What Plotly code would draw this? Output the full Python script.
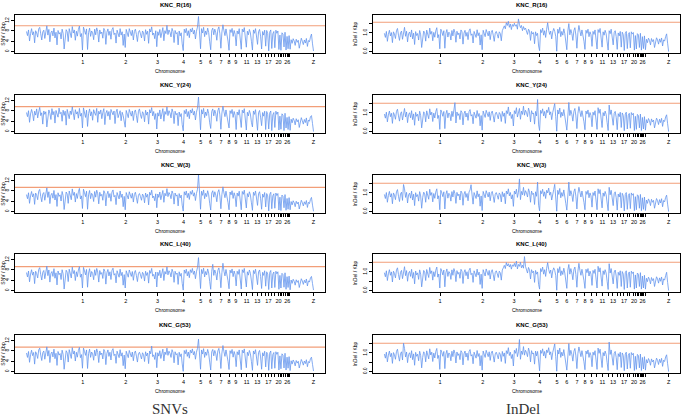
import numpy as np
import plotly.graph_objects as go

# chromosome layout (Mb)
chroms = ["1", "2", "3", "4", "5", "6", "7", "8", "9", "10", "11", "12", "13", "14", "15",
          "16", "17", "18", "19", "20", "21", "22", "23", "24", "25", "26", "27", "28", "Z"]
chrom_len = [195, 149, 110, 90, 60, 34, 36, 28, 23, 19, 19, 20, 17, 15, 12.6,
             0.4, 10.4, 11, 9.9, 14, 6.9, 3.9, 6, 6.4, 2, 5, 4.7, 4.5, 82]
shown_labels = ["1", "2", "3", "4", "5", "6", "7", "8", "9", "11", "13", "17", "20", "26", "Z"]

samples = ["KNC_R(16)", "KNC_Y(24)", "KNC_W(3)", "KNC_L(40)", "KNC_G(53)"]
snv_cut = [10.0, 9.7, 9.4, 9.3, 9.5]
indel_cut = [1.57, 1.52, 1.52, 1.52, 1.52]

# SNV density per window (one line per chromosome block: 1,2,3,4,5,6,7,8,9,10,11,12,13,14,15,17,18,19,20,21-28,Z)
snv_r16 = [7.8,6.2,8.4,4.1,7.0,8.9,6.5,7.7,3.4,8.1,7.2,5.6,8.8,9.4,6.9,4.5,7.6,8.3,5.1,7.9,10.0,6.4,8.6,3.8,7.3,8.0,6.1,9.1,5.3,7.5,2.6,8.2,6.8,7.4,4.9,8.7,7.1,1.0,6.3,8.5,7.7,3.9,8.9,6.6,5.4,9.7,7.2,8.4,4.4,7.9,6.0,8.6,9.9,5.8,7.0,0.6,
           9.5,8.2,6.7,8.8,0.8,7.4,9.1,5.9,8.0,7.3,4.6,8.7,6.5,9.2,7.8,3.7,8.4,6.9,7.6,5.2,9.0,8.1,2.8,7.5,8.8,6.3,7.9,4.8,8.5,9.3,6.6,7.2,3.3,8.3,7.0,5.7,8.9,6.4,7.7,2.4,6.8,1.6,
           8.6,7.4,5.8,8.9,7.1,6.2,8.3,4.5,7.8,8.7,6.6,3.9,7.5,8.2,6.9,5.3,8.0,7.3,4.1,8.5,6.7,7.9,3.2,8.8,7.6,9.6,6.4,7.2,5.0,8.1,1.9,
           7.7,6.3,8.6,5.4,7.9,9.3,4.2,8.1,7.0,10.2,6.6,8.4,7.5,5.7,9.0,7.8,3.5,8.2,6.9,7.4,2.6,8.0,6.1,7.3,3.0,0.4,
           8.7,7.3,9.0,6.2,8.1,5.4,8.8,7.6,9.2,6.8,8.3,4.9,7.9,9.5,13.6,8.4,1.1,
           8.9,7.2,9.4,5.8,8.0,6.6,9.1,7.4,3.8,0.7,
           8.2,9.1,6.5,8.7,7.3,4.4,8.5,9.6,6.9,1.3,
           7.6,10.4,8.1,6.2,8.8,7.0,4.1,0.5,
           8.5,7.4,9.0,5.9,8.2,6.7,2.2,
           8.0,6.8,8.9,5.3,0.9,
           8.7,7.6,9.3,6.1,1.7,
           7.9,6.5,8.6,7.2,4.0,0.6,
           8.4,7.1,8.9,5.5,2.8,
           7.7,8.6,6.0,1.0,
           7.8,6.4,8.3,2.1,
           8.2,7.0,0.3,
           7.6,8.4,1.2,
           6.9,7.8,1.5,
           8.3,7.1,8.0,0.8,
           6.4,0.5,7.3,6.8,1.8,7.5,0.6,5.9,1.1,6.2,0.9,
           4.6,3.2,5.0,4.1,2.4,4.8,3.6,4.4,1.3,3.9,5.2,4.0,2.7,4.5,3.3,5.1,2.0,4.3,3.8,5.6,6.8,3.0,0.2]

snv_y24 = [7.4,5.8,8.1,3.6,6.8,8.6,7.0,4.2,7.9,6.4,8.8,5.3,7.6,9.4,6.2,7.3,2.9,8.0,6.7,7.7,1.8,6.1,8.4,7.1,4.7,8.9,6.5,7.8,3.3,8.2,7.0,5.6,9.1,6.9,7.5,4.0,8.3,6.3,7.9,2.5,8.6,7.2,5.0,8.0,6.6,9.6,7.3,4.6,8.5,6.8,7.7,5.2,9.0,6.0,7.1,1.4,
           9.2,7.6,5.5,8.3,2.0,7.0,8.8,6.1,7.7,4.4,8.5,7.2,6.3,9.0,3.6,7.9,6.8,8.4,5.0,7.4,8.9,2.7,7.1,8.2,6.0,7.8,4.6,8.6,7.3,6.5,8.0,3.1,7.6,8.7,5.4,6.9,8.1,4.2,7.5,6.2,2.9,1.7,
           8.2,6.9,5.4,8.6,7.3,6.0,8.0,4.3,7.5,8.4,6.2,3.5,7.9,8.8,6.5,5.1,7.7,7.0,3.8,8.3,6.4,7.6,2.9,8.5,7.2,9.3,6.1,7.8,4.7,7.0,1.0,
           7.3,6.0,8.4,4.9,7.7,8.9,4.0,7.8,6.7,9.6,6.2,8.1,7.2,5.3,8.8,7.5,3.1,7.9,6.5,7.1,2.3,7.6,5.8,7.0,2.7,0.3,
           8.2,6.9,8.7,5.8,7.8,5.0,8.4,7.2,8.9,6.4,7.9,4.5,7.5,9.1,13.4,8.0,0.7,
           8.5,6.8,9.0,5.4,7.6,6.2,8.7,7.0,3.4,1.2,
           7.8,8.8,6.1,8.3,6.9,4.0,8.1,9.2,6.5,0.9,
           7.2,9.9,7.7,5.8,8.4,6.6,3.7,1.4,
           8.1,7.0,8.6,5.5,7.8,6.3,0.8,
           7.6,6.4,8.5,4.9,1.6,
           8.3,7.2,8.9,5.7,0.6,
           7.5,6.1,8.2,6.8,3.6,1.8,
           8.0,6.7,8.5,5.1,0.5,
           7.3,8.2,5.6,2.3,
           7.4,6.0,7.9,0.8,
           7.8,6.6,1.0,
           7.2,8.0,0.4,
           6.5,7.4,1.6,
           7.9,6.7,7.6,0.6,
           6.0,0.9,6.9,6.4,0.4,7.1,1.4,5.5,0.8,5.8,0.5,
           4.8,3.4,5.2,4.3,2.6,5.0,3.8,4.6,1.6,4.1,5.4,4.2,2.9,4.7,3.5,5.3,2.2,4.5,4.0,5.8,6.2,3.1,0.0]

snv_w3 = [6.6,5.0,7.3,3.2,6.1,7.8,5.7,6.9,2.8,7.2,6.3,4.6,7.9,8.6,5.9,3.8,6.8,7.4,4.4,7.0,9.2,5.5,7.7,3.1,6.4,7.1,5.2,8.2,4.5,6.6,2.0,7.3,5.9,6.5,4.1,7.8,6.2,0.8,5.4,7.6,6.8,3.2,8.0,5.7,4.6,8.8,6.3,7.5,3.7,7.0,5.1,7.7,9.0,4.9,6.1,1.2,
          8.7,7.3,5.8,7.9,0.9,6.5,8.2,5.0,7.1,6.4,3.9,7.8,5.6,8.3,6.9,3.0,7.5,6.0,6.7,4.4,8.1,7.2,2.2,6.6,7.9,5.4,7.0,4.0,7.6,8.4,5.7,6.3,2.7,7.4,6.1,4.9,8.0,5.5,6.8,1.9,5.9,0.7,
          7.4,6.2,4.9,7.7,6.0,5.2,7.1,3.7,6.6,7.5,5.5,3.2,6.3,7.0,5.8,4.4,6.8,6.1,3.4,7.2,5.6,6.7,2.6,7.5,6.4,8.3,5.3,6.0,4.2,6.9,1.5,
          6.8,5.5,7.6,4.6,6.9,8.2,3.6,7.1,6.1,8.9,5.8,7.4,6.6,5.0,8.0,6.9,2.9,7.2,6.0,6.5,2.2,7.0,5.3,6.4,2.5,0.2,
          7.7,6.4,8.0,5.4,7.1,4.7,7.8,6.7,8.3,6.0,7.3,4.3,7.0,8.6,14.3,7.4,0.9,
          7.9,6.3,8.4,5.0,7.1,5.8,8.1,6.5,3.2,0.6,
          7.2,8.1,5.6,7.7,6.4,3.8,7.5,8.5,6.0,1.1,
          6.7,9.6,7.2,5.4,7.9,6.2,3.5,0.7,
          7.6,6.5,8.1,5.1,7.3,5.9,1.9,
          7.2,6.0,7.9,4.6,0.7,
          7.8,6.7,8.3,5.3,1.4,
          7.0,5.7,7.7,6.4,3.4,0.5,
          7.5,6.3,8.0,4.8,2.4,
          6.9,7.7,5.2,0.9,
          6.8,5.6,7.4,1.8,
          7.0,6.1,0.3,
          6.7,7.5,1.1,
          6.1,6.9,1.3,
          7.2,6.2,7.0,0.6,
          5.6,0.4,6.4,5.9,1.5,6.6,0.5,5.1,0.9,5.4,0.7,
          3.9,2.6,4.2,3.4,1.9,4.0,3.0,3.7,1.0,3.3,4.4,3.5,2.2,3.8,2.8,4.3,1.6,3.6,3.1,4.7,5.5,2.5,0.1]

snv_l40 = [7.0,5.3,7.6,3.4,6.4,8.1,6.0,7.2,2.7,7.5,6.6,4.9,8.2,8.9,6.2,4.1,7.1,7.8,4.6,7.3,9.5,5.8,8.0,3.3,6.7,7.4,5.5,8.5,4.8,6.9,2.2,7.6,6.2,6.8,4.3,8.1,6.5,0.6,5.7,7.9,7.1,3.5,8.3,6.0,4.9,9.1,6.6,7.8,3.9,7.3,5.4,8.0,9.3,5.2,6.4,1.0,
           9.0,7.6,6.1,8.2,1.3,6.8,8.5,5.3,7.4,6.7,4.2,8.1,5.9,8.6,7.2,3.3,7.8,6.3,7.0,4.7,8.4,7.5,2.5,6.9,8.2,5.7,7.3,4.3,7.9,8.7,6.0,6.6,3.0,7.7,6.4,5.2,8.3,5.8,7.1,2.1,6.2,1.0,
           7.7,6.5,5.2,8.0,6.3,5.5,7.4,4.0,6.9,7.8,5.8,3.5,6.6,7.3,6.1,4.7,7.1,6.4,3.7,7.5,5.9,7.0,2.9,7.8,6.7,8.6,5.6,6.3,4.5,7.2,1.4,
           7.1,5.8,7.9,4.9,7.2,8.5,3.9,7.4,6.4,9.2,6.1,7.7,6.9,5.3,8.3,7.2,3.2,7.5,6.3,6.8,2.4,7.3,5.6,6.7,2.8,0.2,
           8.0,6.7,8.3,5.7,7.4,5.0,8.1,7.0,8.6,6.3,7.6,4.6,7.3,8.9,12.8,7.7,0.8,
           8.2,6.6,8.7,5.3,7.4,6.1,8.4,6.8,3.5,0.5,
           7.5,10.2,5.9,8.0,6.7,4.1,7.8,8.8,6.3,1.1,
           7.0,10.6,7.5,5.7,8.2,6.5,3.8,0.7,
           7.9,6.8,8.4,5.4,7.6,6.2,1.8,
           7.5,6.3,8.2,4.9,0.6,
           8.1,7.0,8.6,5.6,1.4,
           7.3,6.0,8.0,6.7,3.7,0.4,
           7.8,6.6,8.3,5.1,2.3,
           7.2,8.0,5.5,0.8,
           7.1,5.9,7.7,1.7,
           7.3,6.4,0.4,
           7.0,7.8,1.0,
           6.4,7.2,1.2,
           7.5,6.5,7.3,0.5,
           5.9,1.0,6.7,6.2,1.3,6.9,0.5,5.4,1.2,5.6,0.3,
           4.1,2.8,4.4,3.6,2.1,4.2,3.2,3.9,1.2,3.5,4.6,3.7,2.4,4.0,3.0,4.5,1.8,3.8,3.3,4.9,5.5,2.7,0.2]

snv_g53 = [7.2,5.5,7.8,3.6,6.6,8.3,6.2,7.4,2.9,7.7,6.8,5.1,8.4,9.1,6.4,4.3,7.3,8.0,4.8,7.5,9.6,6.0,8.2,3.5,6.9,7.6,5.7,8.7,5.0,7.1,2.4,7.8,6.4,7.0,4.5,8.3,6.7,0.9,5.9,8.1,7.3,3.7,8.5,6.2,5.1,9.3,6.8,8.0,4.1,7.5,5.6,8.2,9.4,5.4,6.6,1.3,
           9.1,7.8,6.3,8.4,1.2,7.0,8.7,5.5,7.6,6.9,4.4,8.3,6.1,8.8,7.4,3.5,8.0,6.5,7.2,4.9,8.6,7.7,2.7,7.1,8.4,5.9,7.5,4.5,8.1,8.9,6.2,6.8,3.2,7.9,6.6,5.4,8.5,6.0,7.3,2.3,6.4,1.1,
           7.9,6.7,5.4,8.2,6.5,5.7,7.6,4.2,7.1,8.0,6.0,3.7,6.8,7.5,6.3,4.9,7.3,6.6,3.9,7.7,6.1,7.2,3.1,8.0,6.9,9.9,5.8,6.5,4.7,7.4,1.5,
           7.3,6.0,8.1,5.1,7.4,8.7,4.1,7.6,6.6,9.1,6.3,7.9,7.1,5.5,8.5,7.4,3.4,7.7,6.5,7.0,2.6,7.5,5.8,6.9,3.0,0.1,
           8.2,6.9,8.5,5.9,7.6,5.2,8.3,7.2,8.8,6.5,7.8,4.8,7.5,9.0,12.6,7.9,0.9,
           8.4,6.8,8.9,5.5,7.6,6.3,8.6,7.0,3.7,0.6,
           7.7,8.6,6.1,8.2,6.9,4.3,8.0,9.0,6.5,1.2,
           7.2,10.1,7.7,5.9,8.4,6.7,4.0,0.8,
           8.1,7.0,8.6,5.6,7.8,6.4,1.9,
           7.7,6.5,8.4,5.1,0.7,
           8.3,7.2,8.8,5.8,1.5,
           7.5,6.2,8.2,6.9,3.9,0.5,
           8.0,6.8,8.5,5.3,2.4,
           7.4,8.2,5.7,0.9,
           7.3,6.1,7.9,1.8,
           7.5,6.6,0.5,
           7.2,8.0,1.1,
           6.6,7.4,1.3,
           7.7,6.7,7.5,0.6,
           6.1,1.1,6.9,6.4,1.4,7.1,0.6,5.6,1.3,5.8,0.4,
           4.2,2.9,4.5,3.7,2.2,4.3,3.3,4.0,1.4,3.6,4.7,3.8,2.5,4.1,3.1,4.6,1.9,3.9,3.4,5.0,5.6,2.8,0.2]

# InDel density per window (same blocks)
indel_r16 = [0.98,0.76,1.08,0.55,0.92,1.14,0.84,1.02,0.48,1.06,0.94,0.70,1.12,1.24,0.88,0.60,1.00,1.10,0.66,1.04,1.30,0.82,1.09,0.52,0.95,1.05,0.78,1.16,0.68,0.99,0.38,1.07,0.86,0.97,0.62,1.13,0.90,0.22,0.80,1.10,1.01,0.56,1.15,0.85,0.72,1.26,0.93,1.08,0.58,1.03,0.77,1.11,1.28,0.74,0.91,0.15,
             1.20,1.06,0.86,1.12,0.18,0.98,1.18,0.78,1.04,0.96,0.62,1.13,0.84,1.20,1.02,0.50,1.09,0.90,1.00,0.68,1.16,1.06,0.40,0.99,1.14,0.82,1.03,0.64,1.11,1.22,0.87,0.95,0.46,1.08,0.92,0.76,1.17,0.85,1.01,0.35,0.90,0.10,
             1.14,0.98,0.80,1.18,0.94,0.84,1.10,0.64,1.02,1.14,0.88,0.55,0.99,1.08,0.92,0.72,1.06,0.97,0.58,1.12,1.25,1.38,1.22,1.55,1.40,1.62,1.30,1.48,1.18,1.45,1.35,
             1.52,1.36,1.44,1.20,1.75,1.46,1.28,1.40,1.12,1.34,1.18,1.26,1.05,0.92,1.20,1.10,0.60,1.08,0.94,1.02,0.42,1.06,0.86,0.98,0.30,0.05,
             1.18,1.02,1.26,0.88,1.12,0.76,1.20,1.55,1.14,0.92,1.10,0.68,1.05,1.24,1.08,0.82,0.02,
             1.20,0.98,1.30,0.80,1.08,0.88,1.22,0.96,0.50,0.10,
             1.10,1.50,0.90,1.18,0.96,0.60,1.12,1.28,0.88,0.18,
             1.02,1.40,1.10,0.84,1.16,0.92,0.56,0.12,
             1.14,0.98,1.20,0.80,1.06,0.90,0.28,
             1.08,0.92,1.16,0.74,0.14,
             1.18,1.02,1.24,0.82,0.24,
             1.06,0.88,1.14,0.96,0.52,0.08,
             1.12,0.96,1.20,0.76,0.36,
             1.02,1.12,0.80,0.12,
             1.00,0.84,1.08,0.24,
             1.04,0.90,0.06,
             0.98,1.08,0.16,
             0.92,1.02,0.20,
             1.06,0.94,1.02,0.08,
             0.86,0.14,0.96,0.90,0.22,0.98,0.08,0.80,0.16,0.84,0.10,
             0.66,0.48,0.72,0.60,0.36,0.70,0.54,0.64,0.22,0.58,0.74,0.62,0.40,0.68,0.50,0.73,0.30,0.63,0.56,0.80,0.95,0.45,0.00]

indel_y24 = [0.94,0.72,1.04,0.52,0.88,1.10,0.80,0.98,0.44,1.02,0.90,0.66,1.08,1.20,0.84,0.56,0.96,1.06,0.62,1.00,1.24,0.78,1.05,0.48,0.91,1.01,0.74,1.12,0.64,0.95,0.34,1.03,0.82,0.93,0.58,1.09,0.86,0.20,0.76,1.06,0.97,0.52,1.11,0.81,0.68,1.22,0.89,1.04,0.54,0.99,0.73,1.07,1.24,0.70,0.87,0.12,
             1.16,1.02,0.82,1.08,0.16,0.94,1.14,0.74,1.00,0.92,0.58,1.09,0.80,1.16,1.55,0.46,1.05,0.86,0.96,0.64,1.12,1.02,0.36,0.95,1.10,0.78,0.99,0.60,1.07,1.18,0.83,0.91,0.42,1.04,0.88,0.72,1.13,0.81,0.97,0.31,0.86,0.08,
             1.10,0.94,0.76,1.14,0.90,0.80,1.06,0.60,0.98,1.10,0.84,0.51,0.95,1.04,0.88,0.68,1.02,0.93,0.54,1.08,0.82,1.00,0.44,1.12,0.96,1.32,0.86,1.04,0.70,0.92,0.30,
             1.12,0.96,1.28,0.78,1.06,1.24,0.66,1.10,0.92,1.36,0.88,1.14,1.02,0.80,1.26,1.06,0.52,1.12,0.94,1.00,0.40,1.08,0.84,1.72,0.36,0.06,
             1.14,0.98,1.22,0.84,1.08,0.72,1.16,1.02,1.30,0.90,1.06,0.64,1.02,1.20,1.50,0.80,0.02,
             1.16,0.94,1.26,0.76,1.04,0.84,1.18,0.92,0.46,0.08,
             1.06,1.56,0.86,1.14,0.92,0.56,1.08,1.24,0.84,0.16,
             0.98,1.34,1.06,0.80,1.12,0.88,0.52,0.10,
             1.10,0.94,1.16,0.76,1.02,0.86,0.26,
             1.04,0.88,1.12,0.70,0.12,
             1.28,0.98,1.20,0.78,0.22,
             1.02,0.84,1.10,0.92,0.48,0.06,
             1.42,0.92,1.16,0.72,0.34,
             0.98,1.08,0.76,0.10,
             0.96,0.80,1.04,0.22,
             1.00,0.86,0.05,
             0.94,1.04,0.14,
             0.88,0.98,0.18,
             1.02,0.90,0.98,0.06,
             0.82,0.12,0.92,0.86,0.20,0.94,0.06,0.76,0.14,0.80,0.08,
             0.64,0.46,0.70,0.58,0.34,0.68,0.52,0.62,0.20,0.56,0.72,0.60,0.38,0.66,0.48,0.71,0.28,0.61,0.54,0.78,0.90,0.42,0.00]

indel_w3 = [0.92,0.70,1.02,0.50,0.86,1.08,0.78,0.96,0.42,1.00,0.88,0.64,1.06,1.18,0.82,0.54,0.94,1.04,0.60,1.45,1.22,0.76,1.03,0.46,0.89,0.99,0.72,1.10,0.62,0.93,0.32,1.01,0.80,0.91,0.56,1.07,0.84,0.18,0.74,1.04,0.95,0.50,1.09,0.79,0.66,1.20,0.87,1.02,0.52,0.97,0.71,1.05,1.22,0.68,0.85,0.10,
            1.14,1.00,0.80,1.06,0.14,0.92,1.12,0.72,0.98,0.90,0.56,1.07,0.78,1.14,0.96,0.44,1.03,0.84,0.94,0.62,1.10,1.00,0.34,0.93,1.08,0.76,0.97,0.58,1.05,1.16,1.44,0.89,0.40,1.02,0.86,0.70,1.11,0.79,0.95,0.29,0.84,0.06,
            1.08,0.92,0.74,1.12,0.88,0.78,1.04,0.58,0.96,1.08,0.82,0.49,0.93,1.02,0.86,0.66,1.00,0.91,0.52,1.06,0.80,0.98,0.42,1.10,0.94,1.22,0.84,1.02,0.68,0.90,0.28,
            1.10,0.94,1.20,0.76,1.04,1.75,0.64,1.08,0.90,1.30,0.86,1.12,1.00,0.78,1.22,1.04,0.50,1.10,0.92,0.98,0.38,1.06,0.82,1.58,0.34,0.04,
            1.12,0.96,1.20,0.82,1.06,0.70,1.14,1.00,1.26,0.88,1.04,0.62,1.00,1.18,1.46,0.78,0.02,
            1.14,0.92,1.24,0.74,1.02,0.82,1.16,0.90,0.44,0.08,
            1.04,1.58,0.84,1.12,0.90,0.54,1.06,1.22,0.82,0.14,
            0.96,1.30,1.04,0.78,1.10,0.86,0.50,0.10,
            1.08,0.92,1.14,0.74,1.00,0.84,0.24,
            1.02,0.86,1.10,0.68,0.10,
            1.22,0.96,1.18,0.76,0.20,
            1.00,0.82,1.08,0.90,0.46,0.05,
            1.30,0.90,1.14,0.70,0.32,
            0.96,1.06,0.74,0.08,
            0.94,0.78,1.02,0.20,
            0.98,0.84,0.04,
            0.92,1.02,0.12,
            0.86,0.96,0.16,
            1.00,0.88,0.96,0.05,
            0.80,0.10,0.90,0.84,0.18,0.92,0.05,0.74,0.12,0.78,0.06,
            0.62,0.44,0.68,0.56,0.32,0.66,0.50,0.60,0.18,0.54,0.70,0.58,0.36,0.64,0.46,0.69,0.26,0.59,0.52,0.76,0.88,0.40,0.00]

indel_l40 = [0.96,0.74,1.06,0.54,0.90,1.12,0.82,1.00,0.46,1.04,0.92,0.68,1.10,1.22,0.86,0.58,0.98,1.08,0.64,1.02,1.28,0.80,1.07,0.50,0.93,1.03,0.76,1.14,0.66,0.97,0.36,1.05,0.84,0.95,0.60,1.11,0.88,0.20,0.78,1.08,0.99,0.54,1.13,0.83,0.70,1.24,0.91,1.06,0.56,1.01,0.75,1.09,1.26,0.72,0.89,0.14,
             1.18,1.04,0.84,1.10,0.20,0.96,1.16,0.76,1.02,0.94,0.60,1.11,0.82,1.18,1.00,0.48,1.07,0.88,0.98,0.66,1.14,1.04,0.38,0.97,1.12,0.80,1.01,0.62,1.09,1.20,0.85,0.93,0.44,1.06,0.90,0.74,1.15,0.83,0.99,0.33,0.88,0.12,
             1.12,0.96,0.78,1.16,0.92,0.82,1.08,0.62,1.00,1.12,0.86,0.53,0.97,1.06,0.90,0.70,1.04,0.95,0.56,1.10,1.22,1.35,1.18,1.50,1.32,1.44,1.26,1.40,1.15,1.38,1.30,
             1.46,1.28,1.58,1.16,1.40,1.30,1.52,1.22,1.36,1.20,1.82,1.30,1.08,0.94,1.24,1.10,0.62,1.12,0.96,1.04,0.44,1.08,0.88,1.00,0.32,0.08,
             1.18,1.02,1.26,0.88,1.12,0.76,1.20,1.50,1.14,0.92,1.10,0.68,1.05,1.22,1.08,0.82,0.02,
             1.18,0.96,1.28,0.80,1.06,0.86,1.20,0.94,0.48,0.12,
             1.10,1.40,0.88,1.18,0.94,0.58,1.12,1.26,0.86,0.18,
             1.04,1.46,1.08,0.82,1.14,0.90,0.54,0.12,
             1.14,0.96,1.18,0.78,1.04,0.88,0.28,
             1.08,0.92,1.14,0.72,0.14,
             1.30,1.00,1.22,0.80,0.24,
             1.06,0.86,1.12,0.94,0.50,0.06,
             1.44,0.94,1.18,0.74,0.36,
             1.00,1.10,0.78,0.12,
             0.98,0.82,1.06,0.22,
             1.02,0.88,0.06,
             0.96,1.06,0.14,
             0.90,1.00,0.18,
             1.04,0.92,1.00,0.08,
             0.84,0.14,0.94,0.88,0.22,0.96,0.08,0.78,0.14,0.82,0.08,
             0.66,0.48,0.72,0.60,0.36,0.70,0.54,0.64,0.22,0.58,0.74,0.62,0.40,0.68,0.50,0.73,0.30,0.63,0.56,0.80,0.98,0.44,0.00]

indel_g53 = [0.94,0.72,1.04,0.52,0.88,1.10,0.80,0.98,0.44,1.02,0.90,0.66,1.08,1.20,0.84,0.56,0.96,1.06,0.62,1.52,1.24,0.78,1.05,0.48,0.91,1.01,0.74,1.12,0.64,0.95,0.34,1.03,0.82,0.93,0.58,1.09,0.86,0.20,0.76,1.06,0.97,0.52,1.11,0.81,0.68,1.22,0.89,1.04,0.54,0.99,0.73,1.07,1.24,0.70,0.87,0.12,
             1.16,1.02,0.82,1.08,0.16,0.94,1.14,0.74,1.00,0.92,0.58,1.09,0.80,1.16,0.98,0.46,1.05,0.86,0.96,0.64,1.12,1.02,0.36,0.95,1.10,0.78,0.99,0.60,1.07,1.18,0.83,0.91,0.42,1.04,0.88,0.72,1.13,0.81,0.97,0.31,0.86,0.08,
             1.10,0.94,0.76,1.14,0.90,0.80,1.06,0.60,0.98,1.10,0.84,0.51,0.95,1.04,0.88,0.68,1.02,0.93,0.54,1.08,0.82,1.00,0.44,1.12,0.96,1.28,0.86,1.04,0.70,0.92,0.30,
             1.14,0.98,1.24,0.80,1.06,1.72,0.66,1.10,0.92,1.34,0.88,1.14,1.02,0.80,1.26,1.06,0.52,1.12,0.94,1.00,0.40,1.10,0.84,1.08,0.34,0.04,
             1.14,0.98,1.22,0.84,1.08,0.72,1.16,1.02,1.28,0.90,1.06,0.64,1.02,1.20,1.48,0.80,0.02,
             1.16,0.94,1.26,0.76,1.04,0.84,1.18,0.92,0.46,0.08,
             1.06,1.50,0.86,1.14,0.92,0.56,1.08,1.24,0.84,0.16,
             0.98,1.32,1.06,0.80,1.12,0.88,0.52,0.10,
             1.10,0.94,1.16,0.76,1.02,0.86,0.26,
             1.04,0.88,1.12,0.70,0.12,
             1.26,0.98,1.20,0.78,0.22,
             1.02,0.84,1.10,0.92,0.48,0.06,
             1.58,0.92,1.16,0.72,0.34,
             0.98,1.08,0.76,0.10,
             0.96,0.80,1.04,0.22,
             1.00,0.86,0.05,
             0.94,1.04,0.14,
             0.88,0.98,0.18,
             1.02,0.90,0.98,0.06,
             0.82,0.12,0.92,0.86,0.20,0.94,0.06,0.76,0.14,0.80,0.08,
             0.64,0.46,0.70,0.58,0.34,0.68,0.52,0.62,0.20,0.56,0.72,0.60,0.38,0.66,0.48,0.71,0.28,0.61,0.54,0.78,0.90,0.42,0.00]

snv_data = [snv_r16, snv_y24, snv_w3, snv_l40, snv_g53]
indel_data = [indel_r16, indel_y24, indel_w3, indel_l40, indel_g53]

ends = np.cumsum(chrom_len)
total = ends[-1]
ticktext = [c if c in shown_labels else "" for c in chroms]

W, H = 684, 419
box_top = [15, 95, 175, 254, 335]
box_h = 38
cols = [(15, 325), (373, 680)]
FONT = "Liberation Sans, Arial, sans-serif"
BLUE = "#6495ED"
ORANGE = "#F29E78"

fig = go.Figure()
layout = {}
shapes = []
annotations = []


def label(text, px, py, size, family=FONT, color="black"):
    # text centred on a pixel position of the page
    return dict(text=text, x=px / W, y=1 - py / H, xref="paper", yref="paper",
                xanchor="center", yanchor="middle", showarrow=False,
                font=dict(size=size, family=family, color=color))


k = 0
for c, (data, cuts, ylab) in enumerate([(snv_data, snv_cut, "SNV / Kbp"),
                                         (indel_data, indel_cut, "InDel / Kbp")]):
    x0, x1 = cols[c]
    for r in range(5):
        k += 1
        sfx = "" if k == 1 else str(k)
        vals = data[r]
        xs = np.linspace(0, total, len(vals))
        fig.add_trace(go.Scatter(x=xs, y=vals, mode="lines",
                                 line=dict(color=BLUE, width=0.8),
                                 xaxis="x" + sfx, yaxis="y" + sfx,
                                 showlegend=False, hoverinfo="skip"))
        top = box_top[r]
        bot = top + box_h
        if c == 0:
            yrange = [-0.55, 14.2]
            ytv = [0, 4, 8, 12]
            ytt = ["0", "4", "8", "12"]
        else:
            yrange = [-0.075, 1.96]
            ytv = [0, 0.5, 1.0, 1.5]
            ytt = ["0.0", "", "1.0", ""]
        layout["xaxis" + sfx] = dict(
            domain=[x0 / W, x1 / W], anchor="y" + sfx, automargin=False,
            range=[-0.04 * total, 1.04 * total],
            tickvals=list(ends), ticktext=ticktext, tickangle=0,
            ticks="outside", ticklen=3, tickwidth=0.7, tickcolor="black",
            tickfont=dict(size=5.5, family=FONT, color="black"),
            showline=True, linecolor="black", linewidth=1, mirror=True,
            showgrid=False, zeroline=False,
        )
        layout["yaxis" + sfx] = dict(
            domain=[1 - bot / H, 1 - top / H], anchor="x" + sfx, automargin=False,
            range=yrange, tickvals=ytv, ticktext=ytt, tickangle=-90,
            ticks="outside", ticklen=3, tickwidth=0.7, tickcolor="black",
            tickfont=dict(size=5, family=FONT, color="black"),
            showline=True, linecolor="black", linewidth=1, mirror=True,
            showgrid=False, zeroline=False,
            title=dict(text=ylab, font=dict(size=5, family=FONT, color="black"), standoff=4),
        )
        shapes.append(dict(type="line", xref="x" + sfx + " domain", yref="y" + sfx,
                           x0=0, x1=1, y0=cuts[r], y1=cuts[r],
                           line=dict(color=ORANGE, width=1.1), layer="below"))
        annotations.append(label("<b>" + samples[r] + "</b>", (x0 + x1) / 2 + 5, top - 10, 6))
        annotations.append(label("Chromosome", (x0 + x1) / 2, bot + 18, 5))

annotations.append(label("SNVs", 170, 409, 15, "Liberation Serif, serif", "#333333"))
annotations.append(label("InDel", 523, 409, 15, "Liberation Serif, serif", "#333333"))

fig.update_layout(
    width=W, height=H, margin=dict(l=0, r=0, t=0, b=0),
    paper_bgcolor="white", plot_bgcolor="white",
    shapes=shapes, annotations=annotations, **layout,
)

# page body has a default margin; remove it so the figure sits at the window origin
fig.write_html("out.html", config={"displayModeBar": False},
               post_script="document.body.style.margin='0';document.body.style.overflow='hidden';")
